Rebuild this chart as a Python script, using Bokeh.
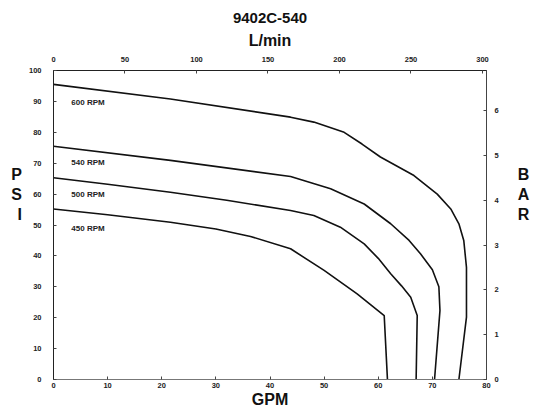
from bokeh.plotting import figure
from bokeh.models import Range1d, LinearAxis, FixedTicker
from bokeh.core.properties import value
from bokeh.embed import file_html
from bokeh.resources import INLINE

# ---------------- data ----------------
title_text = "9402C-540"
rpm_labels = ["600 RPM", "540 RPM", "500 RPM", "450 RPM"]

gpm_600 = [0, 21.6, 43.8, 48.1, 53.7, 57.0, 60.4, 63.5, 66.6, 70.9, 73.4, 74.9, 75.8, 76.3, 76.3, 74.9]
psi_600 = [95.5, 90.8, 84.9, 83.3, 80.0, 76.2, 72.0, 69.0, 66.0, 60.0, 55.2, 50.4, 45.0, 36.3, 20.2, 0]

gpm_540 = [0, 21.6, 43.8, 51.2, 57.4, 62.3, 65.7, 67.8, 70.0, 71.2, 71.4, 70.4]
psi_540 = [75.5, 70.9, 65.7, 61.7, 56.8, 50.4, 45.0, 40.7, 35.5, 30.0, 22.3, 0]

gpm_500 = [0, 10, 21.6, 32, 43.8, 48.1, 53.0, 57.4, 60.0, 62.3, 64.3, 66.0, 67.2, 67.0]
psi_500 = [65.3, 63.2, 60.6, 58.0, 54.7, 53.1, 49.3, 43.9, 39.2, 34.2, 30.3, 26.6, 20.7, 0]

gpm_450 = [0, 10, 21.6, 30, 36.4, 43.8, 50.0, 56.1, 61.1, 61.7]
psi_450 = [55.2, 53.3, 50.9, 48.7, 46.3, 42.3, 35.3, 27.7, 20.7, 0]

label_gpm = [3.3, 3.3, 3.3, 3.3]
label_psi = [89.7, 70.1, 59.9, 48.8]

gpm_ticks = [0, 10, 20, 30, 40, 50, 60, 70, 80]
psi_ticks = [0, 10, 20, 30, 40, 50, 60, 70, 80, 90, 100]
lpm_ticks = [0, 50, 100, 150, 200, 250, 300]
bar_ticks = [0, 1, 2, 3, 4, 5, 6]

GPM_MAX = 80
PSI_MAX = 100
LPM_PER_GPM = 3.785
PSI_PER_BAR = 14.504

FONT = "Liberation Sans"
TICK_FS = "7.5px"
PAD = "\n\u00a0\n\u00a0\n\u00a0"   # empty lines that lift the stacked letters

# ---------------- figure ----------------
p = figure(width=537, height=412,
           x_range=Range1d(0, GPM_MAX), y_range=Range1d(0, PSI_MAX),
           output_backend="svg", toolbar_location=None,
           min_border_left=53, min_border_right=51,
           min_border_top=70, min_border_bottom=33,
           title=title_text)
p.background_fill_color = "white"
p.border_fill_color = "white"
p.outline_line_color = "#222222"
p.outline_line_width = 1
p.grid.visible = False

p.title.align = "center"
p.title.offset = -7
p.title.standoff = 5
p.title.text_font = FONT
p.title.text_font_style = "bold"
p.title.text_font_size = "15px"
p.title.text_color = "#111111"

p.extra_x_ranges = {"lpm": Range1d(0, GPM_MAX * LPM_PER_GPM)}
p.extra_y_ranges = {"bar": Range1d(0, PSI_MAX / PSI_PER_BAR)}

bottom_axis = p.below[0]
left_axis = p.left[0]
top_axis = LinearAxis(x_range_name="lpm", ticker=FixedTicker(ticks=lpm_ticks))
right_axis = LinearAxis(y_range_name="bar", ticker=FixedTicker(ticks=bar_ticks))
p.add_layout(top_axis, "above")
p.add_layout(right_axis, "right")

bottom_axis.ticker = FixedTicker(ticks=gpm_ticks)
left_axis.ticker = FixedTicker(ticks=psi_ticks)

for ax in [bottom_axis, left_axis, top_axis, right_axis]:
    ax.major_label_text_font = FONT
    ax.major_label_text_font_style = "bold"
    ax.major_label_text_font_size = TICK_FS
    ax.major_label_text_color = "#222222"
    ax.axis_line_color = "#222222"
    ax.axis_line_width = 1
    ax.major_tick_in = 3
    ax.major_tick_out = 0
    ax.major_tick_line_color = "#444444"
    ax.minor_tick_line_color = None
    ax.axis_label_text_font = FONT
    ax.axis_label_text_font_style = "bold"
    ax.axis_label_text_font_size = "16px"
    ax.axis_label_text_color = "#111111"

bottom_axis.axis_line_color = "#777777"
right_axis.axis_line_color = "#444444"

bottom_axis.major_label_standoff = 3
top_axis.major_label_standoff = 9
left_axis.major_label_standoff = 12
right_axis.major_label_standoff = 8

top_axis.axis_label = "L/min"
top_axis.axis_label_standoff = 5
bottom_axis.axis_label = "GPM"
bottom_axis.axis_label_standoff = 0
left_axis.axis_label = "P\nS\nI" + PAD
left_axis.axis_label_orientation = "horizontal"
left_axis.axis_label_standoff = 4
right_axis.axis_label = "B\nA\nR" + PAD
right_axis.axis_label_orientation = "horizontal"
right_axis.axis_label_standoff = 16

# ---------------- curves ----------------
for xs, ys in [(gpm_600, psi_600), (gpm_540, psi_540), (gpm_500, psi_500), (gpm_450, psi_450)]:
    p.line(xs, ys, line_color="#111111", line_width=1.6, line_join="round")

p.text(x=label_gpm, y=label_psi, text=rpm_labels,
       text_font=value(FONT), text_font_style="bold", text_font_size="8px",
       text_color="#222222", text_baseline="middle", text_align="left")

open("out.html", "w").write(file_html(p, INLINE))
